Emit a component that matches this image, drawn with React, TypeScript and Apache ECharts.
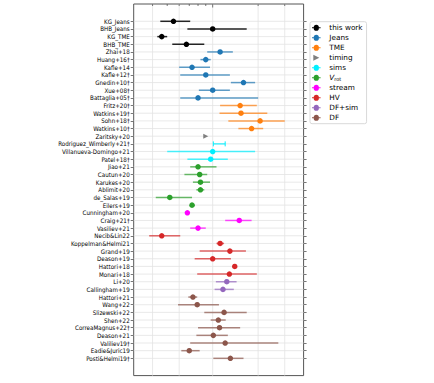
import React, { useEffect, useRef } from 'react';
import * as echarts from 'echarts';

const categories = [
  'KG_Jeans', 'BHB_Jeans', 'KG_TME', 'BHB_TME', 'Zhai+18', 'Huang+16†', 'Kafle+14', 'Kafle+12†',
  'Gnedin+10†', 'Xue+08†', 'Battaglia+05†', 'Fritz+20†', 'Watkins+19†', 'Sohn+18†', 'Watkins+10†',
  'Zaritsky+20', 'Rodriguez_Wimberly+21†', 'Villanueva-Domingo+21', 'Patel+18†', 'Jiao+21',
  'Cautun+20', 'Karukes+20', 'Ablimit+20', 'de_Salas+19', 'Eilers+19', 'Cunningham+20', 'Craig+21†',
  'Vasiliev+21', 'Necib&Lin22', 'Koppelman&Helmi21', 'Grand+19', 'Deason+19', 'Hattori+18',
  'Monari+18', 'Li+20', 'Callingham+19', 'Hattori+21', 'Wang+22', 'Slizewski+22', 'Shen+22',
  'CorreaMagnus+22†', 'Deason+21', 'Valiliev19†', 'Eadie&Juric19', 'Posti&Helmi19†',
];

const methodOf = [
  'this work', 'this work', 'this work', 'this work',
  'Jeans', 'Jeans', 'Jeans', 'Jeans', 'Jeans', 'Jeans', 'Jeans',
  'TME', 'TME', 'TME', 'TME',
  'timing',
  'sims', 'sims', 'sims',
  'Vrot', 'Vrot', 'Vrot', 'Vrot', 'Vrot', 'Vrot',
  'stream', 'stream', 'stream',
  'HV', 'HV', 'HV', 'HV', 'HV', 'HV',
  'DF+sim', 'DF+sim',
  'DF', 'DF', 'DF', 'DF', 'DF', 'DF', 'DF', 'DF', 'DF',
];

// mass estimates (10^12 Msun), with lower / upper ends of the error bars
const centers = [
  0.55, 1.0, 0.46, 0.67, 1.12, 0.90, 0.73, 0.90, 1.60, 1.0, 0.80, 1.52, 1.54, 2.06, 1.81,
  0.90, null, 1.0, 0.97, 0.80, 0.82, 0.83, 0.83, 0.52, 0.73, 0.68, 1.50, 0.80, 0.46, 1.12,
  1.30, 1.0, 1.40, 1.29, 1.24, 1.17, 0.74, 0.79, 1.19, 1.09, 1.11, 1.01, 1.21, 0.70, 1.31,
];
const lows = [
  0.45, 0.68, 0.43, 0.54, 0.92, 0.83, 0.60, 0.61, 1.32, 0.81, 0.61, 1.12, 1.11, 1.27, 1.48,
  null, 1.01, 0.50, 0.68, 0.71, 0.65, 0.74, 0.78, 0.42, 0.71, 0.66, 1.21, 0.71, 0.38, 1.06,
  0.82, 0.76, 1.37, 0.79, 1.05, 1.03, 0.69, 0.59, 0.88, 0.97, 0.80, 0.78, 0.71, 0.62, 1.01,
];
const highs = [
  0.71, 1.68, 0.50, 0.88, 1.36, 0.97, 0.96, 1.30, 1.91, 1.30, 2.0, 1.96, 2.30, 3.0, 2.16,
  null, 1.21, 1.91, 1.26, 1.06, 0.92, 0.96, 0.88, 0.73, 0.76, 0.70, 1.81, 0.90, 0.61, 1.19,
  1.66, 1.32, 1.44, 1.96, 1.44, 1.38, 0.79, 1.10, 1.68, 1.22, 1.52, 1.26, 2.72, 0.82, 1.60,
];

const methods = ['this work', 'Jeans', 'TME', 'timing', 'sims', 'Vrot', 'stream', 'HV', 'DF+sim', 'DF'];
const methodColors = ['#000000', '#1f77b4', '#ff7f0e', '#7f7f7f', '#00f0ff', '#2ca02c', '#ff00ff', '#d62728', '#9467bd', '#8c564b'];

const gridValues = [0.4, 0.6, 1, 2, 3];
const topTickValues = [0.4, 0.5, 0.6, 0.7, 0.8, 0.9, 1, 2, 3];

const FONT = 'DejaVu Sans';
const LABEL_FONT = "'DejaVu Sans Condensed', 'DejaVu Sans'";
const DOT_ICON = 'path://M0,2.1H1.6A2.4,2.4,0,0,1,6.4,2.1H8V2.9H6.4A2.4,2.4,0,0,1,1.6,2.9H0Z';
const TRI_ICON = 'path://M0,0L8,4L0,8Z';

function buildOption() {
  const series: any[] = [];

  series.push({
    type: 'custom', xAxisIndex: 1, yAxisIndex: 1, silent: true, z: 1,
    data: categories.map((_, i) => [1, i]),
    encode: { x: 0, y: 1 },
    renderItem: (params: any, api: any) => {
      const y = api.coord([1, api.value(1)])[1];
      const cs = params.coordSys;
      return { type: 'line', shape: { x1: cs.x, y1: y, x2: cs.x + cs.width, y2: y }, style: { stroke: '#e3e3e3', lineWidth: 0.8 } };
    },
  });
  series.push({
    type: 'custom', xAxisIndex: 0, yAxisIndex: 0, silent: true, z: 1,
    data: gridValues.map((v) => [v, 0.5]),
    encode: { x: 0, y: 1 },
    renderItem: (params: any, api: any) => {
      const x = api.coord([api.value(0), 0.5])[0];
      const cs = params.coordSys;
      return { type: 'line', shape: { x1: x, y1: cs.y, x2: x, y2: cs.y + cs.height }, style: { stroke: '#e3e3e3', lineWidth: 0.8 } };
    },
  });
  series.push({
    type: 'custom', xAxisIndex: 0, yAxisIndex: 0, silent: true, z: 3,
    data: topTickValues.map((v) => [v, 1]),
    encode: { x: 0, y: 1 },
    renderItem: (params: any, api: any) => {
      const v = api.value(0);
      const p = api.coord([v, 1]);
      const len = v === 1 ? 3.5 : 2;
      return { type: 'line', shape: { x1: p[0], y1: p[1], x2: p[0], y2: p[1] + len }, style: { stroke: '#555', lineWidth: 0.8 } };
    },
  });

  methods.forEach((m, mi) => {
    const color = methodColors[mi];
    const bars: any[] = [];
    const pts: any[] = [];
    categories.forEach((_, i) => {
      if (methodOf[i] !== m) return;
      if (lows[i] != null && highs[i] != null) bars.push([lows[i], highs[i], i, centers[i] == null ? 1 : 0]);
      if (centers[i] != null) pts.push([centers[i], i]);
    });
    series.push({
      type: 'custom', name: m, xAxisIndex: 1, yAxisIndex: 1, z: 4, silent: true,
      itemStyle: { color },
      data: bars,
      encode: { x: [0, 1], y: 2 },
      renderItem: (params: any, api: any) => {
        const idx = api.value(2);
        const p1 = api.coord([api.value(0), idx]);
        const p2 = api.coord([api.value(1), idx]);
        const children: any[] = [
          { type: 'line', shape: { x1: p1[0], y1: p1[1], x2: p2[0], y2: p2[1] }, style: { stroke: color, lineWidth: 1.5, opacity: m === 'this work' ? 0.85 : 0.7 } },
        ];
        if (api.value(3) === 1) {
          children.push({ type: 'line', shape: { x1: p1[0], y1: p1[1] - 2.5, x2: p1[0], y2: p1[1] + 2.5 }, style: { stroke: color, lineWidth: 1 } });
          children.push({ type: 'line', shape: { x1: p2[0], y1: p2[1] - 2.5, x2: p2[0], y2: p2[1] + 2.5 }, style: { stroke: color, lineWidth: 1 } });
        }
        return { type: 'group', children };
      },
    });
    series.push({
      type: 'scatter', name: m, xAxisIndex: 1, yAxisIndex: 1, z: 5, silent: true,
      symbol: m === 'timing' ? TRI_ICON : 'circle',
      symbolSize: m === 'timing' ? [5, 5] : 5.5,
      itemStyle: { color, opacity: 1 },
      data: pts,
    });
  });

  const tick = { show: true, alignWithLabel: true, length: 3, interval: 0, lineStyle: { color: '#555', width: 0.8 } };

  return {
    animation: false,
    grid: [
      { left: 133.7, top: 4, width: 169.9, height: 371.6, show: true, borderColor: '#555', borderWidth: 1, backgroundColor: 'transparent' },
      { left: 133.7, top: 17.47, width: 169.9, height: 344.7 },
    ],
    xAxis: [
      { gridIndex: 0, type: 'log', min: 0.3, max: 4, axisLine: { show: false }, axisTick: { show: false }, axisLabel: { show: false }, splitLine: { show: false } },
      { gridIndex: 1, type: 'log', min: 0.3, max: 4, axisLine: { show: false }, axisTick: { show: false }, axisLabel: { show: false }, splitLine: { show: false } },
    ],
    yAxis: [
      { gridIndex: 0, type: 'value', min: 0, max: 1, axisLine: { show: false }, axisTick: { show: false }, axisLabel: { show: false }, splitLine: { show: false } },
      {
        gridIndex: 1, type: 'category', data: categories, inverse: true, boundaryGap: true,
        axisLine: { show: false }, axisTick: tick, splitLine: { show: false },
        axisLabel: { interval: 0, fontSize: 6.2, color: '#000', fontFamily: LABEL_FONT, margin: 4 },
      },
      {
        gridIndex: 1, type: 'category', data: categories, inverse: true, boundaryGap: true, position: 'right',
        axisLine: { show: false }, axisTick: tick, splitLine: { show: false }, axisLabel: { show: false },
      },
    ],
    legend: {
      orient: 'vertical', left: 310, top: 21.7,
      itemWidth: 16, itemHeight: 6, itemGap: 2,
      padding: [2, 4, 2, 2],
      backgroundColor: '#fff', borderColor: '#d9d9d9', borderWidth: 1, borderRadius: 2,
      selectedMode: false,
      formatter: (n: string) => (n === 'Vrot' ? '{i|V}{s|rot}' : n),
      textStyle: {
        fontSize: 7.3, fontFamily: FONT, color: '#000', lineHeight: 8,
        rich: {
          i: { fontStyle: 'italic', fontSize: 7.3, fontFamily: FONT, color: '#000', lineHeight: 8 },
          s: { fontSize: 5, fontFamily: FONT, color: '#000', lineHeight: 8, verticalAlign: 'bottom', padding: [2, 0, 0, 0] },
        },
      },
      data: methods.map((m, i) => ({ name: m, icon: m === 'timing' ? TRI_ICON : DOT_ICON, itemStyle: { color: methodColors[i] } })),
    },
    series,
  };
}

export default function App() {
  const ref = useRef<HTMLDivElement>(null);
  useEffect(() => {
    document.body.style.margin = '0';
    const chart = echarts.init(ref.current!, null, { renderer: 'svg' });
    chart.setOption(buildOption() as any);
    return () => chart.dispose();
  }, []);
  return <div ref={ref} style={{ width: 434, height: 383, background: '#fff' }} />;
}
